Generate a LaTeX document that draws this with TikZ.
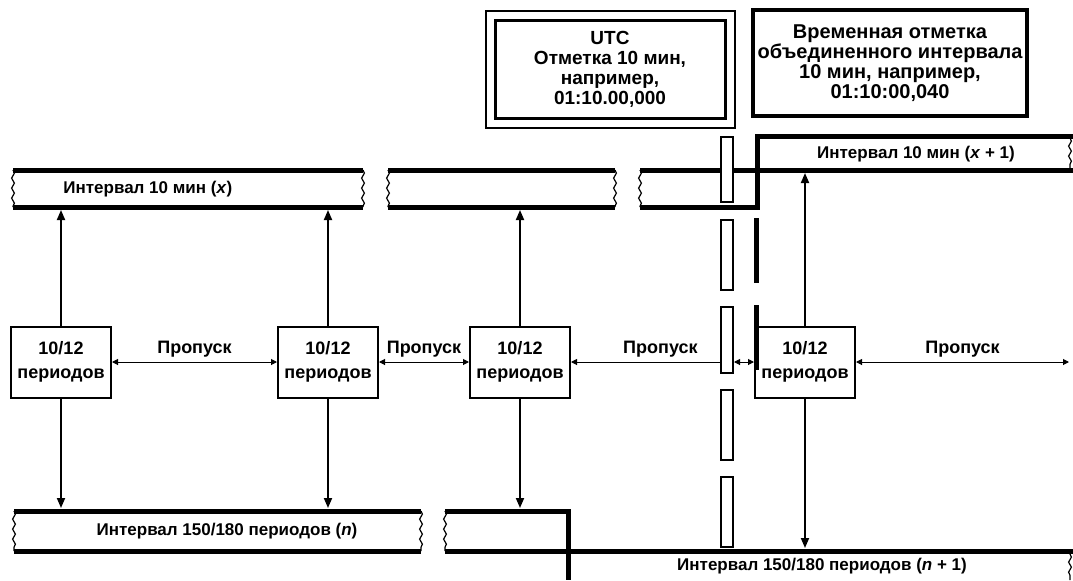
\documentclass[tikz,border=0pt]{standalone}
\usepackage{fontspec}
\setmainfont{Liberation Sans}
\usetikzlibrary{arrows.meta, calc, decorations.pathmorphing}

\begin{document}
\begin{tikzpicture}[
    x=0.5pt, y=-0.5pt,
    >=Triangle,
    period/.style={draw, line width=1pt, fill=white, minimum width=50pt, minimum height=35.5pt, align=center, inner sep=0pt, font=\fontsize{9}{12}\selectfont\bfseries},
    stamp/.style={draw, align=center, inner sep=0pt, font=\fontsize{9.5}{10}\selectfont\bfseries},
    band/.style={line width=2.5pt},
    wavy/.style={line width=0.6pt, decorate, decoration={snake, amplitude=0.7pt, segment length=5pt}},
    bandlabel/.style={font=\fontsize{8.5}{9}\selectfont\bfseries, inner sep=0pt},
    vlink/.style={line width=0.9pt, -{Triangle[length=5pt, width=4pt]}},
    gap/.style={line width=0.5pt, {Triangle[length=3pt, width=3pt]}-{Triangle[length=3pt, width=3pt]}},
    gaplabel/.style={font=\fontsize{9}{10}\selectfont\bfseries, above=1pt, inner sep=1pt}
]
\useasboundingbox (0,0) rectangle (1073,580);

% -------------------------
% TIME STAMPS
% -------------------------
\node[stamp, line width=1.5pt, minimum width=115pt, minimum height=49pt] (utc) at (610,69) {UTC\\Отметка 10 мин,\\например,\\01:10.00,000};
\draw[line width=1pt] ($(utc.north west)+(-8,-8)$) rectangle ($(utc.south east)+(8,8)$);

\node[stamp, line width=2pt, minimum width=137pt, minimum height=53pt, font=\fontsize{10}{10}\selectfont\bfseries] (merged) at (890,63) {Временная отметка\\объединенного интервала\\10 мин, например,\\01:10:00,040};

% -------------------------
% 10 MIN INTERVALS
% -------------------------
\draw[band] (13,170) -- (363,170) (13,207) -- (363,207);
\draw[band] (388,170) -- (615,170) (388,207) -- (615,207);
\draw[band] (640,170) -- (1073,170);
\draw[band] (640,207) -- (757,207) -- (757,136) -- (1073,136);
\foreach \xe in {13,363,388,615,640} \draw[wavy] (\xe,170) -- (\xe,207);
\draw[wavy] (1070,138) -- (1070,168);

\node[bandlabel, anchor=west] (ivx) at (63,189) {Интервал 10 мин (\textit{x})};
\node[bandlabel] (ivx1) at (916,154) {Интервал 10 мин (\textit{x} + 1)};

% -------------------------
% 150/180 CYCLE INTERVALS
% -------------------------
\draw[band] (14,511) -- (421,511) (14,551) -- (421,551);
\draw[band] (445,551) -- (1073,551);
\draw[band] (445,511) -- (568,511) -- (568,580);
\foreach \xe in {14,421,445} \draw[wavy] (\xe,511) -- (\xe,551);
\draw[wavy] (1070,554) -- (1070,580);

\node[bandlabel] (ivn) at (227,531) {Интервал 150/180 периодов (\textit{n})};
\node[bandlabel] (ivn1) at (822,566) {Интервал 150/180 периодов (\textit{n} + 1)};

% -------------------------
% BOUNDARY MARKS
% -------------------------
\foreach \ya/\yb in {137/202, 220/290, 307/373, 390/460, 477/547}
  \draw[line width=0.8pt, fill=white] (721,\ya) rectangle (733,\yb);

% -------------------------
% 10/12 CYCLE BLOCKS
% -------------------------
\node[period] (p1) at (61,362) {10/12\\периодов};
\node[period] (p2) at (328,362) {10/12\\периодов};
\node[period] (p3) at (520,362) {10/12\\периодов};
\node[period] (p4) at (805,362) {10/12\\периодов};

\foreach \ya/\yb in {218/283, 305/370}
  \draw[band] (756,\ya) -- (756,\yb);

\coordinate (xlow) at (0,210);
\coordinate (xnextlow) at (0,173);
\coordinate (ntop) at (0,508);
\coordinate (nnexttop) at (0,548);
\coordinate (cutl) at (720,362);
\coordinate (cutr) at (734,362);
\coordinate (rim) at (1069,362);

% -------------------------
% LINKS
% -------------------------
\foreach \p in {p1,p2,p3} {
  \draw[vlink] (\p.north) -- (\p.north |- xlow);
  \draw[vlink] (\p.south) -- (\p.south |- ntop);
}
\draw[vlink] (p4.north) -- (p4.north |- xnextlow);
\draw[vlink] (p4.south) -- (p4.south |- nnexttop);

% gaps
\draw[gap] (p1) -- node[gaplabel] {Пропуск} (p2);
\draw[gap] (p2) -- node[gaplabel] {Пропуск} (p3);
\draw[line width=0.5pt, {Triangle[length=3pt, width=3pt]}-] (p3) -- node[gaplabel, pos=0.6] {Пропуск} (cutl);
\draw[gap] (cutr) -- (p4);
\draw[gap] (p4) -- node[gaplabel] {Пропуск} (rim);

\end{tikzpicture}
\end{document}
